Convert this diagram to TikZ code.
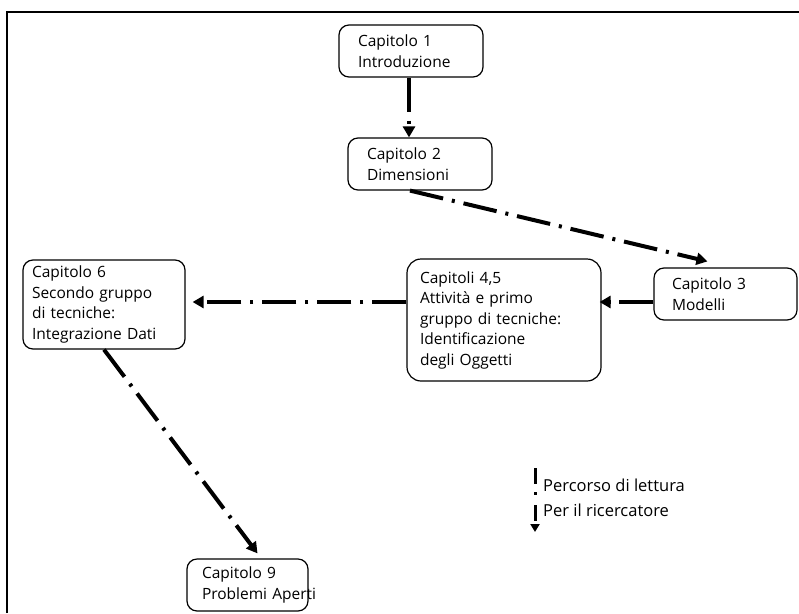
\documentclass[tikz,border=0pt]{standalone}
\usepackage{fontspec}
\setmainfont{Open Sans}
\usetikzlibrary{arrows.meta}
\begin{document}
\begin{tikzpicture}[x=1pt, y=-1pt,
	chap/.style={draw, line width=1.2pt, rounded corners=10pt, align=left,
		font=\fontsize{15.5}{20.5}\selectfont, inner ysep=0pt},
	path/.style={line width=4pt, dash pattern=on 34pt off 9pt on 3pt off 9pt,
		-{Triangle[length=11pt, width=12pt]}},
	legpath/.style={line width=3pt, dash pattern=on 16pt off 8pt on 3pt off 10pt,
		-{Triangle[length=8pt, width=9pt]}}]
	\useasboundingbox (0, 0) rectangle (799, 613);
	\draw[line width=2pt] (7, 613) -- (7, 12) -- (799, 12);

	\node[chap, minimum width=144pt, minimum height=52pt, inner xsep=19pt, text width=106pt] (cap1) at (411, 51) {Capitolo 1\\Introduzione};
	\node[chap, minimum width=144pt, minimum height=52pt, inner xsep=19pt, text width=106pt] (cap2) at (420, 164) {Capitolo 2\\Dimensioni};
	\node[chap, minimum width=143pt, minimum height=52pt, inner xsep=18pt, text width=107pt] (cap3) at (725.5, 294) {Capitolo 3\\Modelli};
	\node[chap, rounded corners=14pt, minimum width=194pt, minimum height=122pt, inner xsep=13pt, text width=168pt] (cap45) at (504, 320) {Capitoli 4,5\\Attività e primo\\gruppo di tecniche:\\Identificazione\\degli Oggetti};
	\node[chap, minimum width=162pt, minimum height=89pt, inner xsep=9pt, text width=144pt] (cap6) at (104, 304.5) {Capitolo 6\\Secondo~gruppo\\di tecniche:\\Integrazione~Dati};
	\node[chap, minimum width=121pt, minimum height=52pt, inner xsep=15pt, text width=91pt] (cap9) at (247.5, 585) {Capitolo 9\\Problemi~Aperti};

	\draw[path] ([xshift=-2pt]cap1.south) -- ([xshift=-2pt]cap1.south |- cap2.north);
	\draw[path] ([xshift=-10pt]cap2.south) -- ([xshift=-18pt, yshift=6pt]cap3.north);
	\draw[path, shorten >=-2pt] ([yshift=-8pt]cap3.west) -- ([yshift=-8pt]cap3.west -| cap45.east);
	\draw[path, shorten >=7pt] ([yshift=-8pt]cap3.west -| cap45.west) -- ([yshift=-8pt]cap3.west -| cap6.east);
	\draw[path] (cap6.south) -- ([xshift=10pt, yshift=5pt]cap9.north);

	\coordinate (legtop) at (535, 468);
	\coordinate (legbot) at (535, 532);
	\draw[legpath] (legtop) -- (legbot);
	\node[anchor=west, align=left, inner sep=0pt, font=\fontsize{16.5}{25}\selectfont] (legend) at (543, 497.5) {Percorso di lettura\\Per il ricercatore};
\end{tikzpicture}
\end{document}
